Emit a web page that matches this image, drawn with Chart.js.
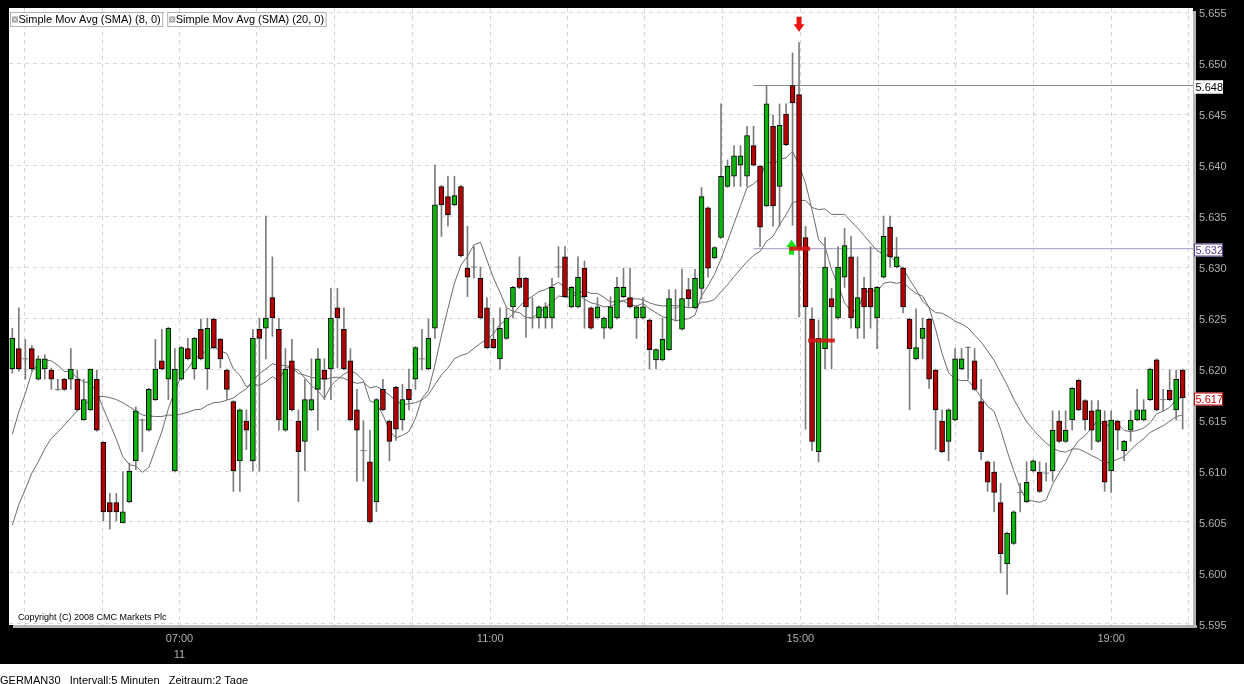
<!DOCTYPE html>
<html>
<head>
<meta charset="utf-8">
<script src="https://cdn.jsdelivr.net/npm/chart.js@4.4.1/dist/chart.umd.min.js"></script>
<style>
  html, body { margin: 0; padding: 0; background: #000; }
  #wrap { position: relative; width: 1244px; height: 684px; }
</style>
</head>
<body>
<div id="wrap"><canvas id="chart" width="1244" height="684"></canvas></div>
<script>
// ===============================
// DATA (GERMAN30, 5 Minuten)
// ===============================
const open = [
  5.6200, 5.6220, 5.6210, 5.6220, 5.6190, 5.6200, 5.6199, 5.6180, 5.6190, 5.6190,
  5.6190, 5.6150, 5.6160, 5.6190, 5.6128, 5.6069, 5.6069, 5.6049, 5.6070, 5.6110,
  5.6150, 5.6140, 5.6170, 5.6208, 5.6190, 5.6100, 5.6190, 5.6220, 5.6200, 5.6239,
  5.6200, 5.6249, 5.6229, 5.6199, 5.6168, 5.6110, 5.6149, 5.6110, 5.6239, 5.6240,
  5.6270, 5.6239, 5.6140, 5.6208, 5.6149, 5.6129, 5.6160, 5.6180, 5.6199, 5.6200,
  5.6260, 5.6239, 5.6208, 5.6160, 5.6120, 5.6109, 5.6070, 5.6180, 5.6149, 5.6182,
  5.6150, 5.6180, 5.6190, 5.6210, 5.6200, 5.6240, 5.6379, 5.6369, 5.6361, 5.6379,
  5.6299, 5.6300, 5.6289, 5.6260, 5.6229, 5.6210, 5.6230, 5.6261, 5.6289, 5.6289,
  5.6250, 5.6250, 5.6250, 5.6250, 5.6300, 5.6310, 5.6261, 5.6261, 5.6299, 5.6260,
  5.6250, 5.6240, 5.6240, 5.6250, 5.6271, 5.6270, 5.6250, 5.6250, 5.6248, 5.6209,
  5.6209, 5.6219, 5.6260, 5.6239, 5.6278, 5.6260, 5.6279, 5.6358, 5.6309, 5.6329,
  5.6379, 5.6389, 5.6400, 5.6389, 5.6419, 5.6399, 5.6360, 5.6438, 5.6379, 5.6450,
  5.6478, 5.6469, 5.6329, 5.6249, 5.6119, 5.6220, 5.6269, 5.6250, 5.6290, 5.6310,
  5.6240, 5.6279, 5.6279, 5.6250, 5.6290, 5.6339, 5.6300, 5.6299, 5.6249, 5.6210,
  5.6230, 5.6249, 5.6199, 5.6149, 5.6129, 5.6150, 5.6200, 5.6221, 5.6208, 5.6168,
  5.6109, 5.6099, 5.6069, 5.6009, 5.6029, 5.6079, 5.6070, 5.6100, 5.6099, 5.6098,
  5.6100, 5.6149, 5.6129, 5.6150, 5.6189, 5.6169, 5.6159, 5.6129, 5.6149, 5.6100,
  5.6149, 5.6120, 5.6140, 5.6150, 5.6150, 5.6170, 5.6209, 5.6170, 5.6179, 5.6160,
  5.6199
];
const high = [
  5.6240, 5.6260, 5.6229, 5.6223, 5.6213, 5.6214, 5.6201, 5.6190, 5.6191, 5.6220,
  5.6199, 5.6190, 5.6200, 5.6199, 5.6129, 5.6078, 5.6078, 5.6099, 5.6108, 5.6163,
  5.6151, 5.6181, 5.6229, 5.6239, 5.6241, 5.6220, 5.6222, 5.6230, 5.6231, 5.6249,
  5.6250, 5.6250, 5.6230, 5.6200, 5.6169, 5.6161, 5.6160, 5.6239, 5.6250, 5.6350,
  5.6310, 5.6250, 5.6220, 5.6229, 5.6160, 5.6190, 5.6210, 5.6220, 5.6210, 5.6279,
  5.6279, 5.6260, 5.6220, 5.6180, 5.6149, 5.6140, 5.6171, 5.6190, 5.6150, 5.6183,
  5.6185, 5.6200, 5.6222, 5.6239, 5.6249, 5.6400, 5.6380, 5.6389, 5.6389, 5.6380,
  5.6340, 5.6320, 5.6300, 5.6270, 5.6250, 5.6260, 5.6260, 5.6281, 5.6310, 5.6290,
  5.6270, 5.6262, 5.6265, 5.6289, 5.6320, 5.6320, 5.6281, 5.6310, 5.6306, 5.6261,
  5.6270, 5.6251, 5.6271, 5.6290, 5.6299, 5.6299, 5.6262, 5.6270, 5.6249, 5.6220,
  5.6250, 5.6278, 5.6278, 5.6298, 5.6289, 5.6298, 5.6378, 5.6359, 5.6320, 5.6460,
  5.6405, 5.6419, 5.6419, 5.6438, 5.6438, 5.6400, 5.6478, 5.6449, 5.6460, 5.6460,
  5.6510, 5.6520, 5.6340, 5.6260, 5.6248, 5.6329, 5.6279, 5.6320, 5.6338, 5.6330,
  5.6310, 5.6290, 5.6320, 5.6281, 5.6350, 5.6350, 5.6329, 5.6300, 5.6250, 5.6259,
  5.6250, 5.6250, 5.6200, 5.6160, 5.6161, 5.6220, 5.6220, 5.6222, 5.6220, 5.6190,
  5.6110, 5.6109, 5.6088, 5.6040, 5.6061, 5.6088, 5.6109, 5.6111, 5.6109, 5.6108,
  5.6159, 5.6159, 5.6159, 5.6182, 5.6190, 5.6170, 5.6169, 5.6169, 5.6159, 5.6159,
  5.6150, 5.6130, 5.6159, 5.6180, 5.6170, 5.6201, 5.6210, 5.6180, 5.6199, 5.6199,
  5.6200
];
const low = [
  5.6196, 5.6198, 5.6190, 5.6198, 5.6189, 5.6190, 5.6180, 5.6179, 5.6179, 5.6180,
  5.6159, 5.6150, 5.6159, 5.6139, 5.6051, 5.6043, 5.6051, 5.6049, 5.6069, 5.6101,
  5.6119, 5.6139, 5.6169, 5.6199, 5.6170, 5.6099, 5.6189, 5.6209, 5.6190, 5.6209,
  5.6180, 5.6220, 5.6201, 5.6170, 5.6080, 5.6080, 5.6121, 5.6100, 5.6100, 5.6210,
  5.6232, 5.6140, 5.6139, 5.6159, 5.6070, 5.6100, 5.6159, 5.6140, 5.6170, 5.6170,
  5.6201, 5.6199, 5.6149, 5.6090, 5.6090, 5.6049, 5.6060, 5.6159, 5.6110, 5.6130,
  5.6140, 5.6160, 5.6180, 5.6199, 5.6199, 5.6230, 5.6330, 5.6340, 5.6360, 5.6310,
  5.6271, 5.6289, 5.6249, 5.6220, 5.6220, 5.6200, 5.6229, 5.6250, 5.6279, 5.6231,
  5.6240, 5.6240, 5.6240, 5.6240, 5.6290, 5.6270, 5.6260, 5.6260, 5.6240, 5.6239,
  5.6249, 5.6230, 5.6239, 5.6249, 5.6270, 5.6260, 5.6230, 5.6249, 5.6200, 5.6200,
  5.6208, 5.6218, 5.6247, 5.6238, 5.6260, 5.6259, 5.6269, 5.6290, 5.6308, 5.6328,
  5.6378, 5.6379, 5.6379, 5.6379, 5.6399, 5.6320, 5.6359, 5.6340, 5.6340, 5.6419,
  5.6341, 5.6251, 5.6141, 5.6120, 5.6109, 5.6200, 5.6200, 5.6249, 5.6280, 5.6240,
  5.6230, 5.6230, 5.6240, 5.6220, 5.6289, 5.6300, 5.6299, 5.6255, 5.6160, 5.6209,
  5.6210, 5.6181, 5.6121, 5.6118, 5.6110, 5.6149, 5.6199, 5.6190, 5.6179, 5.6111,
  5.6080, 5.6060, 5.6000, 5.5979, 5.6028, 5.6060, 5.6069, 5.6099, 5.6079, 5.6090,
  5.6090, 5.6128, 5.6128, 5.6140, 5.6159, 5.6140, 5.6121, 5.6128, 5.6080, 5.6079,
  5.6121, 5.6110, 5.6129, 5.6149, 5.6149, 5.6169, 5.6159, 5.6159, 5.6169, 5.6150,
  5.6141
];
const close = [
  5.6230, 5.6200, 5.6210, 5.6200, 5.6210, 5.6210, 5.6190, 5.6180, 5.6180, 5.6200,
  5.6160, 5.6170, 5.6200, 5.6140, 5.6060, 5.6060, 5.6060, 5.6060, 5.6100, 5.6159,
  5.6150, 5.6180, 5.6200, 5.6200, 5.6240, 5.6200, 5.6221, 5.6210, 5.6230, 5.6210,
  5.6240, 5.6221, 5.6210, 5.6180, 5.6100, 5.6160, 5.6140, 5.6230, 5.6230, 5.6250,
  5.6250, 5.6150, 5.6200, 5.6160, 5.6119, 5.6170, 5.6170, 5.6210, 5.6190, 5.6250,
  5.6250, 5.6200, 5.6150, 5.6140, 5.6120, 5.6050, 5.6170, 5.6160, 5.6129, 5.6141,
  5.6170, 5.6170, 5.6221, 5.6210, 5.6230, 5.6361, 5.6361, 5.6351, 5.6370, 5.6311,
  5.6290, 5.6300, 5.6250, 5.6221, 5.6221, 5.6240, 5.6250, 5.6280, 5.6280, 5.6261,
  5.6250, 5.6261, 5.6261, 5.6280, 5.6300, 5.6271, 5.6280, 5.6290, 5.6271, 5.6240,
  5.6261, 5.6250, 5.6261, 5.6280, 5.6280, 5.6261, 5.6261, 5.6261, 5.6219, 5.6219,
  5.6229, 5.6269, 5.6260, 5.6269, 5.6269, 5.6289, 5.6369, 5.6299, 5.6319, 5.6389,
  5.6399, 5.6409, 5.6409, 5.6429, 5.6400, 5.6339, 5.6460, 5.6360, 5.6439, 5.6420,
  5.6461, 5.6318, 5.6261, 5.6129, 5.6230, 5.6300, 5.6261, 5.6300, 5.6321, 5.6250,
  5.6270, 5.6261, 5.6261, 5.6280, 5.6330, 5.6310, 5.6310, 5.6261, 5.6220, 5.6221,
  5.6240, 5.6190, 5.6160, 5.6119, 5.6160, 5.6210, 5.6210, 5.6221, 5.6180, 5.6119,
  5.6089, 5.6079, 5.6019, 5.6039, 5.6060, 5.6079, 5.6089, 5.6110, 5.6080, 5.6098,
  5.6140, 5.6129, 5.6140, 5.6181, 5.6160, 5.6150, 5.6140, 5.6160, 5.6089, 5.6150,
  5.6140, 5.6129, 5.6150, 5.6160, 5.6160, 5.6200, 5.6160, 5.6170, 5.6170, 5.6190,
  5.6172
];

// SMA warm-up values (bars before the window are not shown)
const sma8Lead = [5.6136, 5.6158, 5.6176, 5.6197, 5.6205, 5.6209, 5.6208];
const sma20Lead = [
  5.6047, 5.6067, 5.6082, 5.6098, 5.6109, 5.6122, 5.6132, 5.6138, 5.6145, 5.6152,
  5.6159, 5.6164, 5.6170, 5.6173, 5.6173, 5.6172, 5.6170, 5.6167, 5.6163
];

// horizontal price levels (start bar + price)
const levelPrices = [5.6478, 5.6318];
const levelStartBar = 114;

// trade markers
const sellSignalBar = 121;
const buySignalBar = 120;
const buySignalPrice = 5.6318;
const tradeBarFrom = [119.5, 122.4];
const tradeBarTo = [122.7, 126.5];
const tradeBarPrice = [5.6318, 5.6228];

// axes
const priceTicks = [5.595, 5.600, 5.605, 5.610, 5.615, 5.620, 5.625, 5.630, 5.635, 5.640, 5.645, 5.650, 5.655];
const hourTicks = [1.9, 13.8, 25.7, 37.6, 49.6, 61.5, 73.5, 85.4, 97.3, 109.3, 121.2, 133.2, 145.1, 157.0, 169.0, 180.9];
const hourLabels = ['', '', ['07:00', '11'], '', '', '', '11:00', '', '', '', '15:00', '', '', '', '19:00', ''];

const legendLabels = ['Simple Mov Avg (SMA) (8, 0)', 'Simple Mov Avg (SMA) (20, 0)'];

// ===============================
// COLOURS
// ===============================
const UP = '#0cb40c';
const DOWN = '#b40000';
const WICK = '#7c7c7c';
const SMA_COLOR = '#6c6c6c';
const FONT = '"Liberation Sans", Arial, sans-serif';

// ===============================
// BUILD DATASETS
// ===============================
function sma(period, lead) {
    return close.map((c, i) => {
        if (i < period - 1) return { x: i, y: lead[i] };
        let s = 0;
        for (let k = i - period + 1; k <= i; k++) s += close[k];
        return { x: i, y: s / period };
    });
}

const idx = close.map((c, i) => i);
const bodyIdx = idx.filter(i => open[i] !== close[i]);
const dojiIdx = idx.filter(i => open[i] === close[i]);

const bodies = bodyIdx.map(i => ({ x: i, y: [open[i], close[i]] }));
const bodyColors = bodyIdx.map(i => close[i] > open[i] ? UP : DOWN);
const wicks = idx.map(i => ({ x: i, y: [low[i], high[i]] }));
const dojis = dojiIdx.map(i => ({ x: i, y: close[i] }));

const X_MIN = -0.51;
const X_MAX = 181.59;

// ===============================
// PLUGINS
// ===============================
const backdrop = {
    id: 'backdrop',
    beforeDraw(chart) {
        const { ctx, chartArea: a, width, height } = chart;
        ctx.save();
        ctx.fillStyle = '#000';
        ctx.fillRect(0, 0, width, height);
        ctx.fillStyle = '#fff';
        ctx.fillRect(0, 664, width, height - 664);
        // panel shadow
        ctx.fillStyle = '#b4b4b4';
        ctx.fillRect(a.left + 4, a.bottom, a.width, 3);
        ctx.fillRect(a.right, a.top + 3, 3, a.height);
        ctx.fillStyle = '#fff';
        ctx.fillRect(a.left, a.top, a.width, a.height);
        ctx.restore();
    }
};

function arrow(ctx, x, yTip, dir, color) {
    // dir = 1 points down, -1 points up
    ctx.fillStyle = color;
    ctx.beginPath();
    ctx.moveTo(x - 2.5, yTip - dir * 15);
    ctx.lineTo(x + 2.5, yTip - dir * 15);
    ctx.lineTo(x + 2.5, yTip - dir * 7.5);
    ctx.lineTo(x + 5.5, yTip - dir * 7.5);
    ctx.lineTo(x, yTip);
    ctx.lineTo(x - 5.5, yTip - dir * 7.5);
    ctx.lineTo(x - 2.5, yTip - dir * 7.5);
    ctx.closePath();
    ctx.fill();
}

const markers = {
    id: 'markers',
    afterDatasetsDraw(chart) {
        const { ctx } = chart;
        const xs = chart.scales.x, ys = chart.scales.y;
        ctx.save();
        // sell signal above the top bar
        const sx = xs.getPixelForValue(sellSignalBar);
        const sy = ys.getPixelForValue(high[sellSignalBar]) - 11;
        arrow(ctx, sx, sy, 1, '#ee1111');
        // buy signal
        const bx = xs.getPixelForValue(buySignalBar) - 1;
        const by = ys.getPixelForValue(buySignalPrice) - 9;
        arrow(ctx, bx, by, -1, '#18e018');
        // trade bars
        ctx.fillStyle = 'rgba(214, 24, 24, 0.92)';
        tradeBarPrice.forEach((p, k) => {
            const x0 = xs.getPixelForValue(tradeBarFrom[k]);
            const x1 = xs.getPixelForValue(tradeBarTo[k]);
            const y = ys.getPixelForValue(p);
            ctx.fillRect(x0, y - 2, x1 - x0, 4);
        });
        ctx.restore();
    }
};

function priceBox(ctx, v, y, border, text) {
    const yy = Math.round(y) + 1;
    ctx.fillStyle = '#fff';
    ctx.fillRect(1194, yy - 6.5, 29, 13);
    ctx.strokeStyle = border;
    ctx.lineWidth = 1;
    ctx.strokeRect(1194.5, yy - 6, 28, 12);
    ctx.fillStyle = text;
    ctx.font = '11px ' + FONT;
    ctx.textAlign = 'left';
    ctx.textBaseline = 'middle';
    ctx.fillText(v.toFixed(3), 1195.5, yy + 0.5);
}

const overlay = {
    id: 'overlay',
    afterDraw(chart) {
        const { ctx } = chart;
        const ys = chart.scales.y;
        ctx.save();

        // legend boxes top-left
        ctx.font = '11px ' + FONT;
        ctx.textBaseline = 'middle';
        let bx = 10.5;
        legendLabels.forEach(label => {
            const w = ctx.measureText(label).width + 10;
            ctx.fillStyle = '#fff';
            ctx.fillRect(bx, 12.5, w, 14);
            ctx.strokeStyle = '#b0b0b0';
            ctx.strokeRect(bx, 12.5, w, 14);
            // close icon
            ctx.fillStyle = '#9a9a9a';
            ctx.fillRect(bx + 1.5, 16.5, 6, 6);
            ctx.strokeStyle = '#fff';
            ctx.beginPath();
            ctx.moveTo(bx + 2.5, 17.5); ctx.lineTo(bx + 6.5, 21.5);
            ctx.moveTo(bx + 6.5, 17.5); ctx.lineTo(bx + 2.5, 21.5);
            ctx.stroke();
            ctx.fillStyle = '#000';
            ctx.textAlign = 'left';
            ctx.fillText(label, bx + 8, 20);
            bx += w + 5;
        });

        // copyright
        ctx.fillStyle = '#000';
        ctx.font = '9px ' + FONT;
        ctx.fillText('Copyright (C) 2008 CMC Markets Plc', 18, 618);

        // footer
        ctx.font = '11px ' + FONT;
        ctx.textBaseline = 'top';
        ctx.fillText('GERMAN30   Intervall:5 Minuten   Zeitraum:2 Tage', 0, 675);

        // price boxes
        priceBox(ctx, levelPrices[0], ys.getPixelForValue(levelPrices[0]), '#ffffff', '#000');
        priceBox(ctx, levelPrices[1], ys.getPixelForValue(levelPrices[1]), '#5a3c9c', '#5a3c9c');
        const last = close[close.length - 1];
        priceBox(ctx, last, ys.getPixelForValue(last), '#c00000', '#c00000');
        ctx.restore();
    }
};

// ===============================
// CHART
// ===============================
function initChart() {
    const ctx = document.getElementById('chart').getContext('2d');

    new Chart(ctx, {
        type: 'bar',
        data: {
            datasets: [
                {
                    label: 'bodies',
                    data: bodies,
                    backgroundColor: bodyColors,
                    borderColor: '#000',
                    borderWidth: 1,
                    borderSkipped: false,
                    barThickness: 5,
                    grouped: false,
                    order: 0
                },
                {
                    type: 'line',
                    label: 'doji',
                    data: dojis,
                    showLine: false,
                    pointStyle: 'line',
                    pointRadius: 3,
                    pointBorderColor: WICK,
                    pointBorderWidth: 1,
                    order: 1
                },
                {
                    label: 'wicks',
                    data: wicks,
                    backgroundColor: WICK,
                    borderWidth: 0,
                    barThickness: 1,
                    grouped: false,
                    order: 2
                },
                {
                    type: 'line',
                    label: legendLabels[0],
                    data: sma(8, sma8Lead),
                    borderColor: SMA_COLOR,
                    borderWidth: 1,
                    pointRadius: 0,
                    tension: 0,
                    order: 3
                },
                {
                    type: 'line',
                    label: legendLabels[1],
                    data: sma(20, sma20Lead),
                    borderColor: SMA_COLOR,
                    borderWidth: 1,
                    pointRadius: 0,
                    tension: 0,
                    order: 3
                },
                {
                    type: 'line',
                    label: 'level high',
                    data: [{ x: levelStartBar, y: levelPrices[0] }, { x: X_MAX, y: levelPrices[0] }],
                    borderColor: '#8a8a8a',
                    borderWidth: 1,
                    pointRadius: 0,
                    order: 4
                },
                {
                    type: 'line',
                    label: 'level entry',
                    data: [{ x: levelStartBar, y: levelPrices[1] }, { x: X_MAX, y: levelPrices[1] }],
                    borderColor: '#a497c8',
                    borderWidth: 1,
                    pointRadius: 0,
                    order: 4
                }
            ]
        },
        options: {
            responsive: false,
            animation: false,
            devicePixelRatio: 1,
            layout: { padding: { left: 9, top: 8, right: 0, bottom: 0 } },
            plugins: {
                legend: { display: false },
                tooltip: { enabled: false }
            },
            scales: {
                x: {
                    type: 'linear',
                    min: X_MIN,
                    max: X_MAX,
                    offset: false,
                    afterBuildTicks: s => { s.ticks = hourTicks.map(v => ({ value: v })); },
                    afterFit: s => { s.height = 59; s.paddingLeft = 0; s.paddingRight = 0; },
                    grid: { color: '#d6d6d6', drawTicks: false, tickLength: 0, offset: false },
                    border: { display: false, dash: [4, 4] },
                    ticks: {
                        autoSkip: false,
                        maxRotation: 0,
                        minRotation: 0,
                        padding: 6,
                        color: '#b0b0b0',
                        font: { family: FONT, size: 11, lineHeight: 1.45 },
                        callback: (v, i) => hourLabels[i]
                    }
                },
                y: {
                    position: 'right',
                    min: 5.5949,
                    max: 5.6554,
                    afterBuildTicks: s => { s.ticks = priceTicks.map(v => ({ value: v })); },
                    afterFit: s => { s.width = 51; s.paddingTop = 0; s.paddingBottom = 0; },
                    grid: { color: '#d6d6d6', drawTicks: false, tickLength: 0 },
                    border: { display: false, dash: [4, 4] },
                    ticks: {
                        padding: 6,
                        labelOffset: 2,
                        color: '#b0b0b0',
                        font: { family: FONT, size: 11 },
                        callback: v => v.toFixed(3)
                    }
                }
            }
        },
        plugins: [backdrop, markers, overlay]
    });
}

document.addEventListener('DOMContentLoaded', initChart);
</script>
</body>
</html>
